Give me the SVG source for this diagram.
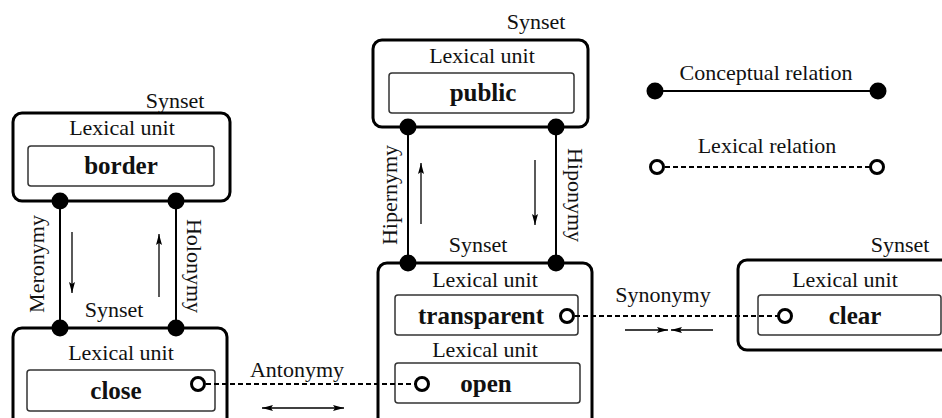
<svg xmlns="http://www.w3.org/2000/svg" width="942" height="418" viewBox="0 0 942 418">
  <defs>
    <style>
      .t { font-family: "Liberation Serif", "Times New Roman", serif; font-size: 22px; fill: #111; text-anchor: middle; }
      .b { font-family: "Liberation Serif", "Times New Roman", serif; font-size: 25px; font-weight: bold; fill: #111; text-anchor: middle; }
      .synset { fill: #fff; stroke: #000; stroke-width: 3; }
      .unit { fill: #fff; stroke: #333; stroke-width: 1.5; }
      .concept { stroke: #000; stroke-width: 2; fill: none; }
      .lexical { stroke: #000; stroke-width: 2; stroke-dasharray: 5 3; fill: none; }
      .dot { fill: #000; }
      .ring { fill: #fff; stroke: #000; stroke-width: 3; }
      .dir { stroke: #000; stroke-width: 1.3; fill: none; }
    </style>
    <marker id="head" viewBox="0 0 11 6" refX="11" refY="3" markerWidth="11" markerHeight="6" markerUnits="userSpaceOnUse" orient="auto-start-reverse">
      <path d="M0,0 L11,3 L0,6 L2,3 Z" fill="#000"/>
    </marker>
  </defs>

  <!-- synset: border -->
  <g id="synset-border">
    <text class="t" x="175" y="108">Synset</text>
    <rect class="synset" x="13" y="113" width="217" height="88" rx="9"/>
    <text class="t" x="122" y="135">Lexical unit</text>
    <rect class="unit" x="28" y="146" width="186" height="40" rx="3"/>
    <text class="b" x="121" y="174">border</text>
  </g>

  <!-- synset: close -->
  <g id="synset-close">
    <text class="t" x="114" y="317">Synset</text>
    <rect class="synset" x="13" y="328" width="214" height="110" rx="9"/>
    <text class="t" x="121" y="360">Lexical unit</text>
    <rect class="unit" x="27" y="370" width="188" height="41" rx="3"/>
    <text class="b" x="116" y="399">close</text>
  </g>

  <!-- synset: public -->
  <g id="synset-public">
    <text class="t" x="536" y="29">Synset</text>
    <rect class="synset" x="373" y="40" width="215" height="87" rx="9"/>
    <text class="t" x="482" y="63">Lexical unit</text>
    <rect class="unit" x="389" y="73" width="185" height="40" rx="3"/>
    <text class="b" x="483" y="101">public</text>
  </g>

  <!-- synset: transparent / open -->
  <g id="synset-transparent-open">
    <text class="t" x="478" y="252">Synset</text>
    <rect class="synset" x="378" y="263" width="214" height="175" rx="9"/>
    <text class="t" x="485" y="287">Lexical unit</text>
    <rect class="unit" x="395" y="295" width="183" height="40" rx="3"/>
    <text class="b" x="481" y="324">transparent</text>
    <text class="t" x="485" y="357">Lexical unit</text>
    <rect class="unit" x="395" y="363" width="185" height="40" rx="3"/>
    <text class="b" x="486" y="392">open</text>
  </g>

  <!-- synset: clear -->
  <g id="synset-clear">
    <text class="t" x="900" y="252">Synset</text>
    <rect class="synset" x="738" y="260" width="220" height="90" rx="9"/>
    <text class="t" x="845" y="287">Lexical unit</text>
    <rect class="unit" x="758" y="295" width="183" height="40" rx="3"/>
    <text class="b" x="855" y="324">clear</text>
  </g>

  <!-- legend -->
  <g id="legend">
    <text class="t" x="766" y="80">Conceptual relation</text>
    <line class="concept" x1="655" y1="91" x2="878" y2="91"/>
    <circle class="dot" cx="655" cy="91" r="8.5"/>
    <circle class="dot" cx="878" cy="91" r="8.5"/>
    <text class="t" x="767" y="153">Lexical relation</text>
    <line class="lexical" x1="657" y1="167" x2="877" y2="167"/>
    <circle class="ring" cx="657" cy="167" r="6.5"/>
    <circle class="ring" cx="877" cy="167" r="6.5"/>
  </g>

  <!-- relations -->
  <g id="connectors">
    <!-- meronymy / holonymy -->
    <line class="concept" x1="60" y1="201" x2="60" y2="328"/>
    <line class="concept" x1="176" y1="201" x2="176" y2="328"/>
    <circle class="dot" cx="60" cy="201" r="8.5"/>
    <circle class="dot" cx="176" cy="201" r="8.5"/>
    <circle class="dot" cx="60" cy="328" r="8.5"/>
    <circle class="dot" cx="176" cy="328" r="8.5"/>
    <line class="dir" x1="72" y1="232" x2="72" y2="293" marker-end="url(#head)"/>
    <line class="dir" x1="159" y1="297" x2="159" y2="234" marker-end="url(#head)"/>
    <text class="t" transform="translate(44,264) rotate(-90)">Meronymy</text>
    <text class="t" transform="translate(187,266) rotate(90)">Holonymy</text>

    <!-- hipernymy / hiponymy -->
    <line class="concept" x1="408" y1="127" x2="408" y2="263"/>
    <line class="concept" x1="556" y1="127" x2="556" y2="263"/>
    <circle class="dot" cx="408" cy="127" r="8.5"/>
    <circle class="dot" cx="556" cy="127" r="8.5"/>
    <circle class="dot" cx="408" cy="263" r="8.5"/>
    <circle class="dot" cx="556" cy="263" r="8.5"/>
    <line class="dir" x1="421" y1="224" x2="421" y2="163" marker-end="url(#head)"/>
    <line class="dir" x1="535" y1="160" x2="535" y2="225" marker-end="url(#head)"/>
    <text class="t" transform="translate(397,195) rotate(-90)">Hipernymy</text>
    <text class="t" transform="translate(568,195) rotate(90)">Hiponymy</text>

    <!-- antonymy -->
    <line class="lexical" x1="198" y1="384" x2="422" y2="384"/>
    <circle class="ring" cx="198" cy="384" r="6.5"/>
    <circle class="ring" cx="422" cy="384" r="6.5"/>
    <text class="t" x="297" y="377">Antonymy</text>
    <line class="dir" x1="262" y1="408" x2="344" y2="408" marker-start="url(#head)" marker-end="url(#head)"/>

    <!-- synonymy -->
    <line class="lexical" x1="567" y1="316" x2="785" y2="316"/>
    <circle class="ring" cx="567" cy="316" r="6.5"/>
    <circle class="ring" cx="785" cy="316" r="6.5"/>
    <text class="t" x="663" y="302">Synonymy</text>
    <line class="dir" x1="625" y1="330" x2="668" y2="330" marker-end="url(#head)"/>
    <line class="dir" x1="713" y1="330" x2="671" y2="330" marker-end="url(#head)"/>
  </g>
</svg>
